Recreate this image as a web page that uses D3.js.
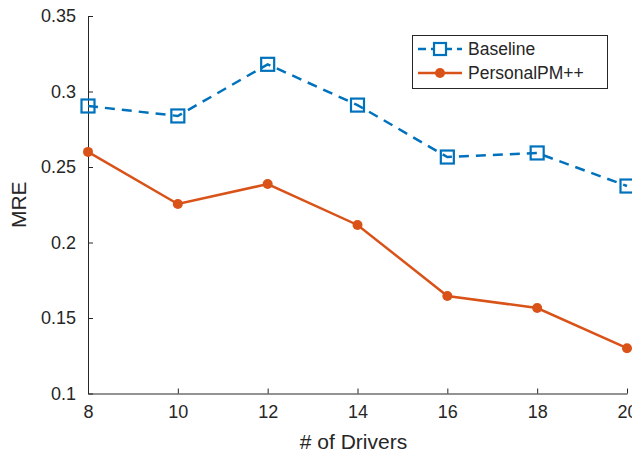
<!DOCTYPE html>
<html><head><meta charset="utf-8">
<script src="https://cdn.jsdelivr.net/npm/d3@7/dist/d3.min.js"></script>
<style>body{margin:0;background:#fff}svg{display:block}text{font-family:"Liberation Sans",Arial,Helvetica,sans-serif}</style>
</head><body><svg id="c" width="632" height="456"></svg>
<script>
const drivers = [8, 10, 12, 14, 16, 18, 20];
const baseline = [0.2904, 0.2838, 0.318, 0.291, 0.2566, 0.2593, 0.2374];
const personal = [0.260, 0.2255, 0.2387, 0.2116, 0.1646, 0.1566, 0.130];
const xTicks = [8, 10, 12, 14, 16, 18, 20];
const yTicks = [0.1, 0.15, 0.2, 0.25, 0.3, 0.35];
const seriesNames = ["Baseline", "PersonalPM++"];

const svg = d3.select("#c");
const x = d3.scaleLinear().domain([8, 20]).range([88, 627]);
const y = d3.scaleLinear().domain([0.1, 0.35]).range([393.5, 16]);
const axisColor = "#262626";
const fs = 18;

// axes
const xa = svg.append("g").attr("transform", `translate(0,${y(0.1)})`)
  .call(d3.axisBottom(x).tickValues(xTicks).tickSizeInner(-5).tickSizeOuter(0).tickPadding(12).tickFormat(d3.format("d")));
const ya = svg.append("g").attr("transform", `translate(${x(8)},0)`)
  .call(d3.axisLeft(y).tickValues(yTicks).tickSizeInner(-5).tickSizeOuter(0).tickPadding(12).tickFormat(d => String(+d.toFixed(2))));
[xa, ya].forEach(a => {
  a.selectAll("path,line").attr("stroke", axisColor).attr("stroke-width", 1);
  a.selectAll("text").attr("fill", axisColor).style("font-size", fs + "px").style("font-family", '"Liberation Sans",Arial,sans-serif');
});

const blue = "#0072BD", orange = "#D95319";
const line = d3.line().x((d, i) => x(drivers[i])).y(d => y(d));

svg.append("path").datum(baseline).attr("d", line).attr("fill", "none")
  .attr("stroke", blue).attr("stroke-width", 2.5).attr("stroke-dasharray", "10,7");
svg.append("path").datum(personal).attr("d", line).attr("fill", "none")
  .attr("stroke", orange).attr("stroke-width", 2.5);

const sq = 13;
svg.selectAll("rect.b").data(baseline).enter().append("rect")
  .attr("x", (d, i) => x(drivers[i]) - sq / 2).attr("y", d => y(d) - sq / 2)
  .attr("width", sq).attr("height", sq).attr("fill", "none").attr("stroke", blue).attr("stroke-width", 2.2);
svg.selectAll("circle.p").data(personal).enter().append("circle")
  .attr("cx", (d, i) => x(drivers[i])).attr("cy", d => y(d)).attr("r", 5).attr("fill", orange);

// labels
svg.append("text").attr("x", (88 + 627) / 2 - 4).attr("y", 449).attr("text-anchor", "middle")
  .attr("fill", axisColor).style("font-size", "21px").text("# of Drivers");
svg.append("text").attr("transform", `translate(26,${(16 + 393.5) / 2}) rotate(-90)`).attr("text-anchor", "middle")
  .attr("fill", axisColor).style("font-size", "21px").text("MRE");

// legend
const lg = svg.append("g");
lg.append("rect").attr("x", 412.5).attr("y", 35.5).attr("width", 195).attr("height", 53)
  .attr("fill", "#fff").attr("stroke", axisColor).attr("stroke-width", 1);
const rows = [{n: seriesNames[0], c: blue, dash: "10,7", m: "sq"}, {n: seriesNames[1], c: orange, dash: null, m: "c"}];
rows.forEach((r, i) => {
  const cy = 49 + i * 24;
  const l = lg.append("line").attr("x1", 418).attr("x2", 462).attr("y1", cy).attr("y2", cy)
    .attr("stroke", r.c).attr("stroke-width", 2.5);
  if (r.dash) l.attr("stroke-dasharray", "8,5");
  if (r.m === "sq") lg.append("rect").attr("x", 440 - 6).attr("y", cy - 6).attr("width", 12).attr("height", 12)
    .attr("fill", "#fff").attr("stroke", r.c).attr("stroke-width", 2.2);
  else lg.append("circle").attr("cx", 440).attr("cy", cy).attr("r", 5).attr("fill", r.c);
  lg.append("text").attr("x", 468).attr("y", cy + 6).attr("fill", axisColor).style("font-size", "17.5px").text(r.n);
});
</script></body></html>
